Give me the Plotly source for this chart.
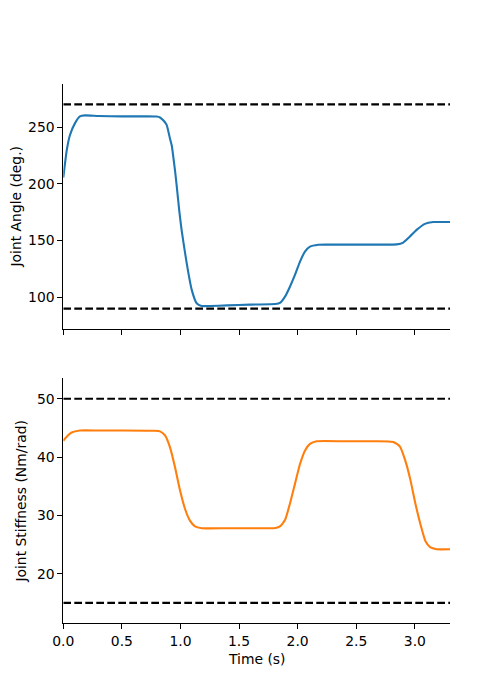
import plotly.graph_objects as go

# ---- data ----
angle_t = [0.0, 0.03, 0.057, 0.10, 0.142, 0.185, 0.30, 0.50, 0.70, 0.797, 0.825, 0.853,
           0.882, 0.91, 0.925, 0.953, 0.968, 0.99, 1.010, 1.053, 1.096, 1.138, 1.18, 1.25,
           1.4, 1.593, 1.762, 1.81, 1.849, 1.892, 1.934, 1.977, 2.020, 2.062, 2.105, 2.176,
           2.3, 2.5, 2.7, 2.845, 2.901, 2.958, 3.015, 3.086, 3.157, 3.22, 3.3]
angle_v = [205.5, 230, 243, 253.5, 259.4, 260.3, 259.8, 259.5, 259.5, 259.3, 258.5, 256,
           252, 240, 234, 212, 198, 176, 159, 130, 106.5, 94.7, 92.3, 92.3,
           92.8, 93.5, 93.8, 94, 95, 100.5, 109.3, 119.7, 131.4, 140.2, 144.6, 146.3,
           146.4, 146.4, 146.4, 146.6, 148.2, 153.5, 159.4, 164.7, 166.3, 166.4, 166.4]

stiff_t = [0.0, 0.035, 0.071, 0.142, 0.3, 0.5, 0.78, 0.825, 0.868, 0.91, 0.953, 0.996,
           1.039, 1.081, 1.124, 1.181, 1.4, 1.6, 1.76, 1.81, 1.849, 1.892, 1.934, 1.977,
           2.020, 2.062, 2.105, 2.162, 2.4, 2.6, 2.816, 2.873, 2.92, 2.963, 3.005, 3.05,
           3.09, 3.13, 3.186, 3.3]
stiff_v = [42.8, 43.6, 44.2, 44.55, 44.55, 44.55, 44.5, 44.4, 43.7, 41.7, 38.3, 34.3,
           31.1, 29.1, 28.1, 27.8, 27.8, 27.8, 27.8, 27.85, 28.1, 29.2, 32.0, 35.4,
           38.8, 41.1, 42.25, 42.7, 42.7, 42.7, 42.6, 41.8, 39.3, 36.0, 32.0, 28.3,
           25.6, 24.55, 24.2, 24.2]

angle_limits = [90, 270]
stiff_limits = [15, 50]
t_span = [0.0, 3.3]

x_ticks = [0.0, 0.5, 1.0, 1.5, 2.0, 2.5, 3.0]
angle_ticks = [100, 150, 200, 250]
stiff_ticks = [20, 30, 40, 50]

FONT = "DejaVu Sans"
FS = 13.9
DASH = "7.7px,3.3px"
W, H = 500, 700
OFF = 8  # the page body adds an 8px offset; compensate


def px_x(px):
    return (px - OFF) / W


def px_y(px):
    return 1 - (px - OFF) / H


fig = go.Figure()

fig.add_trace(go.Scatter(x=angle_t, y=angle_v, mode="lines", xaxis="x", yaxis="y",
                         line=dict(color="#1f77b4", width=2.1, shape="spline", smoothing=0.5),
                         showlegend=False))
for lim in angle_limits:
    fig.add_trace(go.Scatter(x=t_span, y=[lim, lim], mode="lines", xaxis="x", yaxis="y",
                             line=dict(color="black", width=2.1, dash=DASH), showlegend=False))

fig.add_trace(go.Scatter(x=stiff_t, y=stiff_v, mode="lines", xaxis="x2", yaxis="y2",
                         line=dict(color="#ff7f0e", width=2.1, shape="spline", smoothing=0.5),
                         showlegend=False))
for lim in stiff_limits:
    fig.add_trace(go.Scatter(x=t_span, y=[lim, lim], mode="lines", xaxis="x2", yaxis="y2",
                             line=dict(color="black", width=2.1, dash=DASH), showlegend=False))

axis_common = dict(showgrid=False, zeroline=False, showline=True, linecolor="black",
                   linewidth=1.1, ticks="outside", ticklen=4.9, tickwidth=1.1,
                   automargin=False,
                   tickcolor="black", tickfont=dict(family=FONT, size=FS, color="black"))

xdom = [px_x(63.3), px_x(450)]

fig.update_layout(
    template="none",
    width=W, height=H,
    margin=dict(l=0, r=0, t=0, b=0, pad=0),
    paper_bgcolor="white", plot_bgcolor="white",
    font=dict(family=FONT, size=FS, color="black"),
    xaxis=dict(domain=xdom, range=t_span, anchor="y", tickvals=x_ticks,
               showticklabels=False, **axis_common),
    yaxis=dict(domain=[px_y(329), px_y(84)], range=[72, 288], anchor="x",
               tickvals=angle_ticks, **axis_common),
    xaxis2=dict(domain=xdom, range=t_span, anchor="y2", tickvals=x_ticks,
                tickformat=".1f", **axis_common),
    yaxis2=dict(domain=[px_y(623.3), px_y(378.3)], range=[11.5, 53.5], anchor="x2",
                tickvals=stiff_ticks, **axis_common),
    annotations=[
        dict(text="Joint Angle (deg.)", xref="paper", yref="paper", x=-0.004,
             y=px_y(206.5), textangle=-90, showarrow=False, xanchor="left",
             yanchor="middle", borderpad=0, font=dict(family=FONT, size=FS, color="black")),
        dict(text="Joint Stiffness (Nm/rad)", xref="paper", yref="paper", x=px_x(20.8),
             y=px_y(500.8), textangle=-90, showarrow=False, xanchor="center",
             yanchor="middle", font=dict(family=FONT, size=FS, color="black")),
        dict(text="Time (s)", xref="paper", yref="paper", x=px_x(256.7), y=px_y(659.3),
             showarrow=False, xanchor="center", yanchor="middle",
             font=dict(family=FONT, size=FS, color="black")),
    ],
)

fig.write_html("out.html")
